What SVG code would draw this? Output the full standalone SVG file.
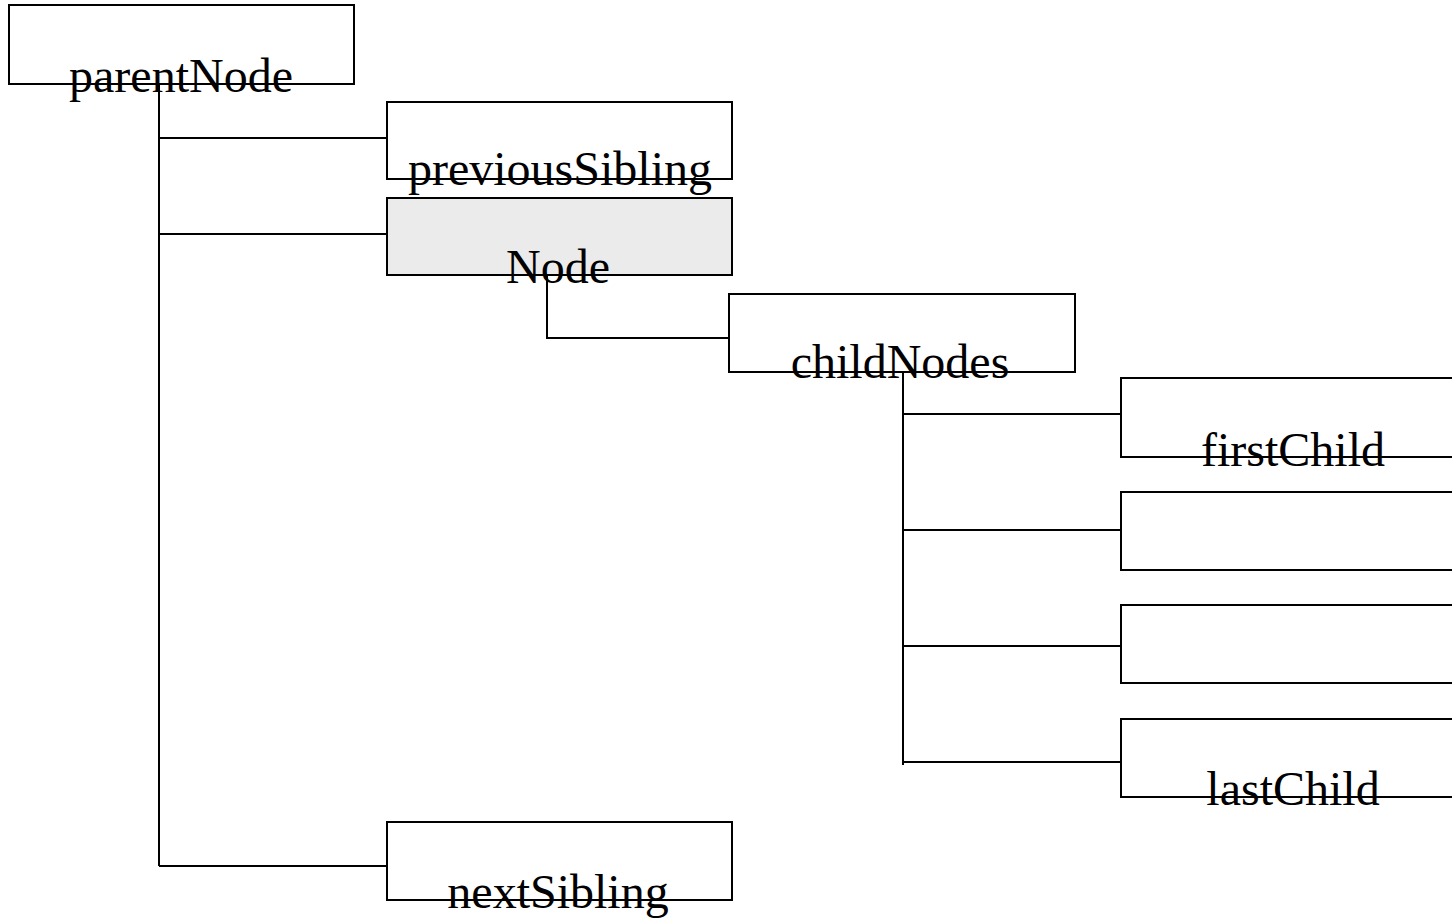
<svg xmlns="http://www.w3.org/2000/svg" width="1452" height="918" viewBox="0 0 1452 918">
<style>
.box{fill:#ffffff;stroke:#000000;stroke-width:2}
.cur{fill:#ebebeb;stroke:#000000;stroke-width:2}
.lbl{font-family:"Liberation Serif","Times New Roman",serif;font-size:48px;fill:#000000;text-anchor:middle}
.conn{fill:none;stroke:#000000;stroke-width:2}
</style>
<rect width="1452" height="918" fill="#ffffff"/>
<g id="connectors">
<path class="conn" d="M159,84 V866 M159,138 H387 M159,234 H387 M159,866 H387"/>
<path class="conn" d="M547,275 V338 H729"/>
<path class="conn" d="M903,372 V765 M903,414 H1121 M903,530 H1121 M903,646 H1121 M903,762 H1121"/>
</g>
<g id="parentNode">
<rect class="box" x="9" y="5" width="345" height="79"/>
<text class="lbl" x="181" y="92">parentNode</text>
</g>
<g id="previousSibling">
<rect class="box" x="387" y="102" width="345" height="77"/>
<text class="lbl" x="560" y="185">previousSibling</text>
</g>
<g id="node">
<rect class="cur" x="387" y="198" width="345" height="77"/>
<text class="lbl" x="558" y="283">Node</text>
</g>
<g id="childNodes">
<rect class="box" x="729" y="294" width="346" height="78"/>
<text class="lbl" x="900" y="378">childNodes</text>
</g>
<g id="firstChild">
<rect class="box" x="1121" y="378" width="345" height="79"/>
<text class="lbl" x="1293" y="466">firstChild</text>
</g>
<g id="child2">
<rect class="box" x="1121" y="492" width="345" height="78"/>
</g>
<g id="child3">
<rect class="box" x="1121" y="605" width="345" height="78"/>
</g>
<g id="lastChild">
<rect class="box" x="1121" y="719" width="345" height="78"/>
<text class="lbl" x="1293" y="805">lastChild</text>
</g>
<g id="nextSibling">
<rect class="box" x="387" y="822" width="345" height="78"/>
<text class="lbl" x="558" y="908">nextSibling</text>
</g>
</svg>
